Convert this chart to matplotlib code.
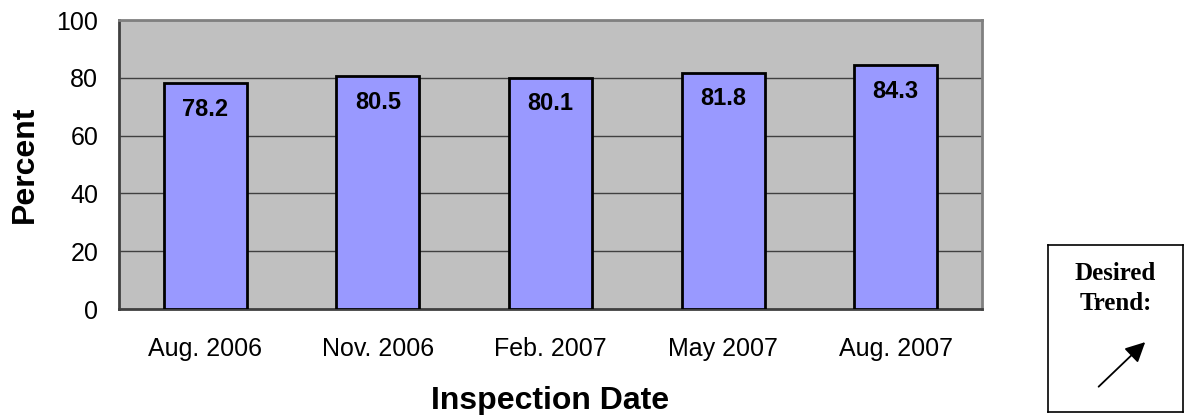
import matplotlib.pyplot as plt
import numpy as np

# data
dates = ["Aug. 2006", "Nov. 2006", "Feb. 2007", "May 2007", "Aug. 2007"]
percent = [78.2, 80.5, 80.1, 81.8, 84.3]
yticks = [0, 20, 40, 60, 80, 100]

plt.rcParams['font.family'] = ['Liberation Sans', 'DejaVu Sans']

fig = plt.figure(figsize=(11.94, 4.15), dpi=100)
ax = fig.add_axes([119/1194, 1 - 309/415, (982 - 119)/1194, (309 - 20)/415])

x = np.arange(len(dates))
ax.set_facecolor('#c0c0c0')
ax.set_axisbelow(True)
ax.yaxis.grid(True, color='#404040', linewidth=1)
bars = ax.bar(x, percent, width=0.48, color='#9999ff', edgecolor='black', linewidth=2, zorder=3)

for xi, v in zip(x, percent):
    ax.annotate(f"{v}", (xi, v), xytext=(0, -19), textcoords='offset points',
                ha='center', va='center', fontsize=17, fontweight='bold', zorder=4)

ax.set_xlim(-0.5, len(dates) - 0.5)
ax.set_ylim(0, 100)
ax.set_yticks(yticks)
ax.set_xticks(x)
ax.set_xticklabels(dates)
ax.tick_params(axis='both', length=0, labelsize=18)
ax.tick_params(axis='x', pad=20)
ax.tick_params(axis='y', pad=15)
for s in ax.spines.values():
    s.set_color('#808080')
    s.set_linewidth(2)
ax.spines['bottom'].set_color('#404040')
ax.spines['left'].set_color('#404040')

ax.set_xlabel("Inspection Date", fontsize=23, fontweight='bold', labelpad=18)
ax.set_ylabel("Percent", fontsize=23, fontweight='bold', labelpad=12)

# desired trend box
box = fig.add_axes([1048/1194, 1 - 412/415, (1183 - 1048)/1194, (412 - 245)/415])
box.set_xlim(0, 1)
box.set_ylim(0, 1)
box.set_xticks([])
box.set_yticks([])
for s in box.spines.values():
    s.set_linewidth(1.2)
box.text(0.5, 0.74, "Desired\nTrend:", ha='center', va='center', fontsize=18,
         fontweight='bold', family=['Liberation Serif', 'DejaVu Serif'], linespacing=1.35)
box.annotate("", xy=(0.735, 0.43), xytext=(0.36, 0.14),
             arrowprops=dict(arrowstyle='-|>', color='black', lw=1.3, mutation_scale=30))

fig.savefig("out.png", dpi=100)
